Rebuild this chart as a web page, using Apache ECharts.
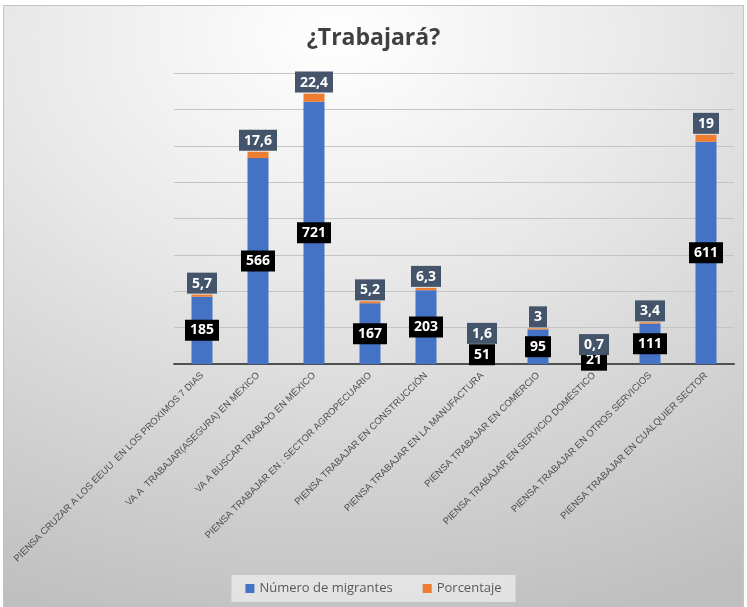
<!DOCTYPE html>
<html>
<head>
<meta charset="utf-8">
<script src="https://cdn.jsdelivr.net/npm/echarts@6/dist/echarts.min.js"></script>
<style>
  html, body { margin: 0; padding: 0; background: #fff; }
  #bg {
    position: absolute; left: 3px; top: 5px; width: 739px; height: 610px;
    border: 1px solid #c4c4c4;
    background: radial-gradient(ellipse 110% 100% at 45% 5%, #ffffff 0%, #e8e8e8 40%, #bfbfbf 100%);
  }
  #chart { position: absolute; left: 0; top: 0; width: 747px; height: 607px; }
</style>
</head>
<body>
<div id="bg"></div>
<div id="chart"></div>
<script>
// categorias (eje x)
var categorias = [
  'PIENSA CRUZAR A LOS EEUU  EN LOS PROXIMOS 7 DIAS',
  'VA A  TRABAJAR(ASEGURA) EN MÉXICO',
  'VA A BUSCAR TRABAJO EN MÉXICO',
  'PIENSA TRABAJAR EN : SECTOR AGROPECUARIO',
  'PIENSA TRABAJAR EN CONSTRUCCIÓN',
  'PIENSA TRABAJAR EN LA MANUFACTURA',
  'PIENSA TRABAJAR EN COMERCIO',
  'PIENSA TRABAJAR EN SERVICIO DOMÉSTICO',
  'PIENSA TRABAJAR EN OTROS SERVICIOS',
  'PIENSA TRABAJAR EN CUALQUIER SECTOR'
]
var migrantes = [185, 566, 721, 167, 203, 51, 95, 21, 111, 611]
var porcentaje = [5.7, 17.6, 22.4, 5.2, 6.3, 1.6, 3, 0.7, 3.4, 19]

var chart = echarts.init(document.getElementById('chart'))
var option = {
  backgroundColor: 'transparent',
  animation: false,
  title: {
    text: '¿Trabajará?',
    left: 'center',
    top: 22,
    textStyle: {
      fontFamily: 'Open Sans',
      fontWeight: 'bold',
      fontSize: 23,
      color: '#404040'
    }
  },
  legend: {
    bottom: 5,
    left: 'center',
    itemWidth: 9,
    itemHeight: 9,
    itemGap: 30,
    padding: [7, 14],
    backgroundColor: 'rgba(232,232,232,0.85)',
    icon: 'rect',
    textStyle: { fontFamily: 'Open Sans', fontSize: 13, color: '#595959' },
    data: ['Número de migrantes', 'Porcentaje']
  },
  grid: {
    left: 174,
    right: 13,
    top: 73,
    bottom: 243
  },
  xAxis: {
    type: 'category',
    data: categorias,
    axisTick: { show: false },
    axisLine: { lineStyle: { color: '#505050', width: 2 } },
    axisLabel: {
      interval: 0,
      rotate: 45,
      margin: 10,
      fontFamily: 'Liberation Sans',
      fontSize: 9.5,
      color: '#4d4d4d'
    }
  },
  yAxis: {
    type: 'value',
    min: 0,
    max: 800,
    interval: 100,
    axisLabel: { show: false },
    axisLine: { show: false },
    axisTick: { show: false },
    splitLine: { lineStyle: { color: '#c4c4c4', width: 1 } }
  },
  series: [
    {
      name: 'Número de migrantes',
      type: 'bar',
      stack: 'total',
      barWidth: 21,
      itemStyle: { color: '#4472c4' },
      label: {
        show: true,
        position: 'inside',
        backgroundColor: '#000',
        color: '#fff',
        fontFamily: 'Open Sans',
        fontWeight: 'bold',
        fontSize: 14,
        padding: [4, 5, 3, 5]
      },
      data: migrantes
    },
    {
      name: 'Porcentaje',
      type: 'bar',
      stack: 'total',
      barWidth: 21,
      itemStyle: { color: '#ed7d31' },
      label: {
        show: true,
        position: 'top',
        distance: 1,
        backgroundColor: '#44546a',
        color: '#fff',
        fontFamily: 'Open Sans',
        fontWeight: 'bold',
        fontSize: 14,
        padding: [4, 5, 3, 5],
        formatter: function (p) { return String(p.value).replace('.', ',') }
      },
      data: porcentaje
    }
  ]
}
chart.setOption(option)
</script>
</body>
</html>
